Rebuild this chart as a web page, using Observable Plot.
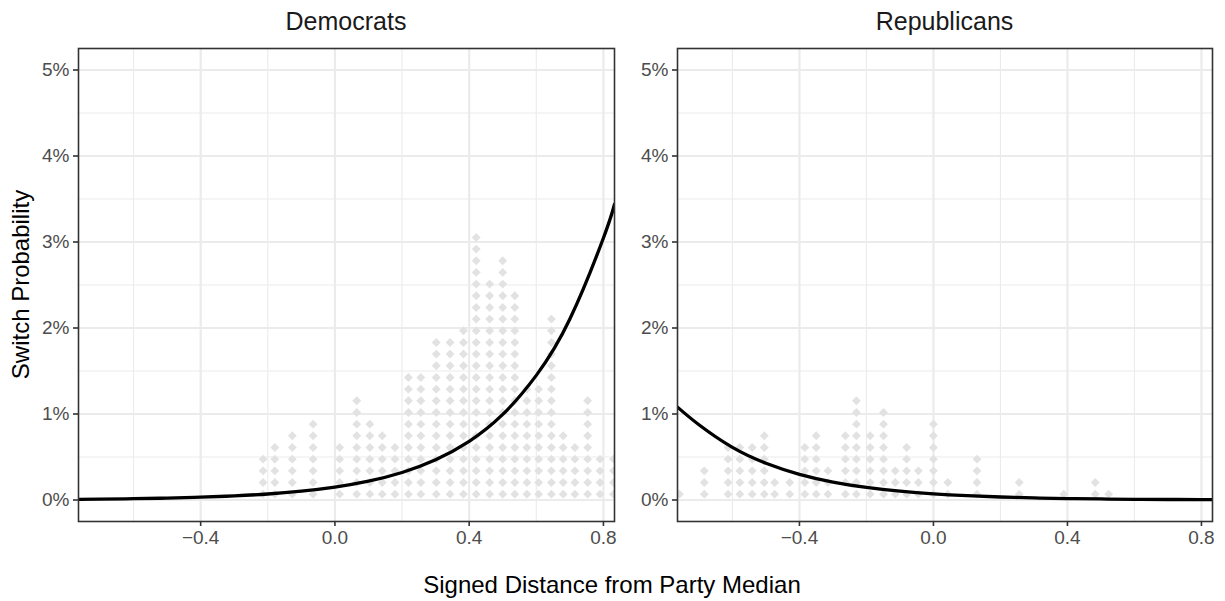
<!DOCTYPE html>
<html><head><meta charset="utf-8">
<script src="https://cdn.jsdelivr.net/npm/d3@7"></script>
<script src="https://cdn.jsdelivr.net/npm/@observablehq/plot@0.6"></script>
<style>
html,body{margin:0;padding:0;background:#fff;}
#chart{position:relative;width:1225px;height:601px;overflow:hidden;font-family:"Liberation Sans",Arial,sans-serif;}
#chart .p{position:absolute;top:0;}
#chart svg.overlay{position:absolute;left:0;top:0;pointer-events:none;}
</style></head><body><div id="chart"></div>
<script>
// ---- data ----
const panelTitles = ["Democrats", "Republicans"];
const xTitle = "Signed Distance from Party Median";
const yTitle = "Switch Probability";

// dot-stack columns (bin centre on x, number of stacked dots)
const demBinX = [-0.214,-0.179,-0.127,-0.065,0.014,0.065,0.104,0.141,0.179,0.219,0.256,0.302,0.343,0.383,0.421,0.461,0.500,0.536,0.572,0.607,0.645,0.680,0.715,0.753,0.790,0.830];
const demBinCount = [4,5,6,7,5,9,7,6,5,11,11,14,14,15,23,19,21,18,10,10,16,6,5,9,4,4];
const repBinX = [-0.758,-0.684,-0.613,-0.578,-0.541,-0.505,-0.474,-0.429,-0.384,-0.350,-0.315,-0.263,-0.230,-0.189,-0.149,-0.114,-0.080,-0.045,0.000,0.043,0.130,0.256,0.389,0.483,0.523];
const repBinCount = [1,3,5,5,5,6,2,2,5,6,3,6,9,6,8,3,5,3,7,2,4,2,1,2,1];
const dotStep = 0.1357; // percent per stacked dot

// fitted switch-probability curve (percent)
const curveX = [-0.764,-0.7,-0.6,-0.5,-0.4,-0.3,-0.2,-0.1,0,0.1,0.2,0.3,0.4,0.5,0.6,0.7,0.8,0.833];
const demCurve = [0.008,0.011,0.015,0.022,0.033,0.048,0.070,0.103,0.150,0.219,0.320,0.468,0.682,0.995,1.449,2.104,3.047,3.439];
const repCurve = [1.08,0.875,0.612,0.428,0.299,0.209,0.146,0.102,0.071,0.050,0.035,0.024,0.017,0.012,0.008,0.006,0.004,0.0035];

const xTicks = [-0.4, 0, 0.4, 0.8];
const xMinor = [-0.6, -0.2, 0.2, 0.6];
const yTicks = [0, 1, 2, 3, 4, 5];
const yMinor = [0.5, 1.5, 2.5, 3.5, 4.5];
const xDomain = [-0.764, 0.833];
const yDomain = [-0.25, 5.25];

// ---- build ----
function stack(binX, binCount) {
  const out = [];
  binX.forEach((x, i) => { for (let k = 0; k < binCount[i]; k++) out.push({x, y: (k + 0.5) * dotStep}); });
  return out;
}
function curve(values) { return curveX.map((x, i) => ({x, y: values[i]})); }

const FONT = '"Liberation Sans", Arial, sans-serif';
function panel(binX, binCount, values, width, ml, mr) {
  return Plot.plot({
    width, height: 601,
    marginTop: 48, marginBottom: 80, marginLeft: ml, marginRight: mr,
    x: {domain: xDomain, axis: null},
    y: {domain: yDomain, axis: null},
    style: {fontFamily: FONT, fontSize: "19px", background: "transparent", overflow: "visible"},
    marks: [
      Plot.gridX(xMinor, {stroke: "#ebebeb", strokeOpacity: 1, strokeWidth: 1.1}),
      Plot.gridY(yMinor, {stroke: "#ebebeb", strokeOpacity: 1, strokeWidth: 1.1}),
      Plot.gridX(xTicks, {stroke: "#ebebeb", strokeOpacity: 1, strokeWidth: 2.2}),
      Plot.gridY(yTicks, {stroke: "#ebebeb", strokeOpacity: 1, strokeWidth: 2.2}),
      Plot.dot(stack(binX, binCount), {x: "x", y: "y", symbol: "diamond2", r: 4, fill: "#e2e2e2", stroke: "none", clip: true}),
      Plot.line(curve(values), {x: "x", y: "y", stroke: "#000", strokeWidth: 3.3, curve: "natural", clip: true}),
      Plot.frame({stroke: "#333333", strokeWidth: 1.6}),
      Plot.axisX({ticks: xTicks, tickFormat: d3.format(".1f"), label: null, tickSize: 5, tickPadding: 4, stroke: "#333333", strokeWidth: 1.6, fill: "#4d4d4d", fontSize: 19}),
      Plot.axisY({ticks: yTicks, tickFormat: d => d + "%", label: null, tickSize: 5, tickPadding: 4, stroke: "#333333", strokeWidth: 1.6, fill: "#4d4d4d", fontSize: 19})
    ]
  });
}

const chart = document.getElementById("chart");
const p1 = panel(demBinX, demBinCount, demCurve, 622, 78, 8);
const p2 = panel(repBinX, repBinCount, repCurve, 603, 55, 13);
const d1 = document.createElement("div"); d1.className = "p"; d1.style.left = "0px"; d1.appendChild(p1);
const d2 = document.createElement("div"); d2.className = "p"; d2.style.left = "622px"; d2.appendChild(p2);
chart.appendChild(d1); chart.appendChild(d2);

// titles as real text
const ov = d3.select(chart).append("svg").attr("class", "overlay").attr("width", 1225).attr("height", 601)
  .style("font-family", FONT);
const titlePos = [[346, 29.5], [944.5, 29.5]];
panelTitles.forEach((t, i) => ov.append("text").attr("x", titlePos[i][0]).attr("y", titlePos[i][1])
  .attr("text-anchor", "middle").attr("font-size", 25).attr("fill", "#1a1a1a").text(t));
ov.append("text").attr("x", 612).attr("y", 593).attr("text-anchor", "middle").attr("font-size", 24).attr("fill", "#000").text(xTitle);
ov.append("text").attr("transform", "translate(29,284.5) rotate(-90)").attr("text-anchor", "middle").attr("font-size", 24).attr("fill", "#000").text(yTitle);
</script></body></html>
